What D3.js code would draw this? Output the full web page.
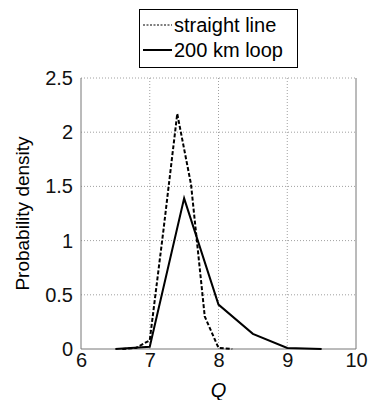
<!DOCTYPE html>
<html>
<head>
<meta charset="utf-8">
<script src="https://cdn.jsdelivr.net/npm/d3@7"></script>
<style>
  body { margin: 0; background: #fff; }
  svg { font-family: "Liberation Sans", Arial, sans-serif; }
</style>
</head>
<body>
<div id="chart"></div>
<script>
// values
const straightQ = [6.6, 6.8, 7.0, 7.2, 7.4, 7.6, 7.8, 8.0, 8.2];
const straightDensity = [0, 0.01, 0.08, 1.1, 2.17, 1.52, 0.3, 0.01, 0];
const loopQ = [6.5, 7.0, 7.5, 8.0, 8.5, 9.0, 9.5];
const loopDensity = [0, 0.02, 1.39, 0.41, 0.14, 0.01, 0];
const xTicks = [6, 7, 8, 9, 10];
const yTicks = [0, 0.5, 1, 1.5, 2, 2.5];
const legendLabels = ["straight line", "200 km loop"];

const width = 370, height = 400;
const margin = { top: 78, right: 14, bottom: 51, left: 81 };

const svg = d3.select("#chart").append("svg")
    .attr("width", width)
    .attr("height", height);

const x = d3.scaleLinear().domain([6, 10]).range([margin.left, width - margin.right]);
const y = d3.scaleLinear().domain([0, 2.5]).range([height - margin.bottom, margin.top]);

// grid (dotted)
svg.append("g").selectAll("line.gx")
    .data(xTicks.slice(1, -1))
    .join("line")
    .attr("x1", d => x(d)).attr("x2", d => x(d))
    .attr("y1", y(0)).attr("y2", y(2.5))
    .attr("stroke", "#888").attr("stroke-width", 0.8)
    .attr("stroke-dasharray", "1,2");
svg.append("g").selectAll("line.gy")
    .data(yTicks.slice(1))
    .join("line")
    .attr("x1", x(6)).attr("x2", x(10))
    .attr("y1", d => y(d)).attr("y2", d => y(d))
    .attr("stroke", "#888").attr("stroke-width", 0.8)
    .attr("stroke-dasharray", "1,2");

// box left/bottom/right
svg.append("path")
    .attr("d", `M${x(6)},${y(2.5)}V${y(0)}H${x(10)}V${y(2.5)}`)
    .attr("fill", "none")
    .attr("stroke", "#777")
    .attr("stroke-width", 1);

// axes
const xAxis = svg.append("g")
    .attr("transform", `translate(0,${y(0)})`)
    .call(d3.axisBottom(x).tickValues(xTicks).tickSize(0).tickPadding(4).tickFormat(d3.format("d")));
const yAxis = svg.append("g")
    .attr("transform", `translate(${x(6)},0)`)
    .call(d3.axisLeft(y).tickValues(yTicks).tickSize(0).tickPadding(8).tickFormat(d => d));
[xAxis, yAxis].forEach(g => {
    g.select(".domain").remove();
    g.selectAll("text").attr("font-size", 20).attr("fill", "#111")
        .attr("font-family", "'Liberation Sans', Arial, sans-serif");
});

svg.append("text")
    .attr("x", x(8)).attr("y", 397)
    .attr("text-anchor", "middle")
    .attr("font-size", 20).attr("font-style", "italic")
    .text("Q");

svg.append("text")
    .attr("transform", `translate(29,${(y(0) + y(2.5)) / 2}) rotate(-90)`)
    .attr("text-anchor", "middle")
    .attr("font-size", 19)
    .text("Probability density");

// lines
const line = d3.line().x(d => x(d[0])).y(d => y(d[1]));

svg.append("path")
    .datum(d3.zip(straightQ, straightDensity))
    .attr("d", line)
    .attr("fill", "none")
    .attr("stroke", "#000")
    .attr("stroke-width", 2)
    .attr("stroke-dasharray", "4,2");

svg.append("path")
    .datum(d3.zip(loopQ, loopDensity))
    .attr("d", line)
    .attr("fill", "none")
    .attr("stroke", "#000")
    .attr("stroke-width", 2);

// legend
const legend = svg.append("g");
legend.append("rect")
    .attr("x", 139.5).attr("y", 9.5)
    .attr("width", 158).attr("height", 58)
    .attr("fill", "#fff").attr("stroke", "#000").attr("stroke-width", 1);
legendLabels.forEach((lab, i) => {
    const ly = 25 + i * 25;
    legend.append("line")
        .attr("x1", 143).attr("x2", 172)
        .attr("y1", ly).attr("y2", ly)
        .attr("stroke", "#000")
        .attr("stroke-width", i === 0 ? 1 : 2)
        .attr("stroke-dasharray", i === 0 ? "2,1.5" : null);
    legend.append("text")
        .attr("x", 174).attr("y", ly + 7)
        .attr("font-size", 20)
        .text(lab);
});
</script>
</body>
</html>
